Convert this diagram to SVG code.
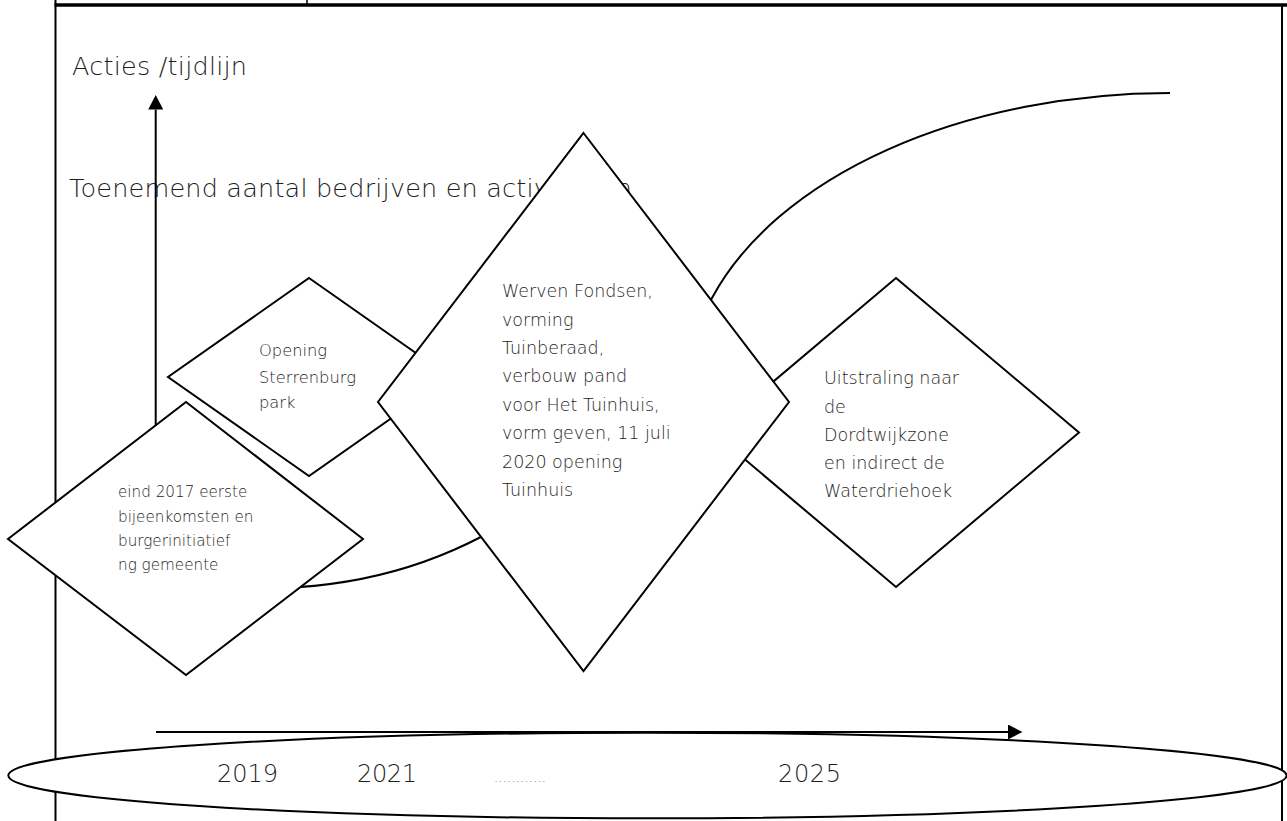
<svg xmlns="http://www.w3.org/2000/svg" width="1287" height="821" viewBox="0 0 1287 821">
<defs>
<style>
.frame{stroke:#000;fill:none}
.shape{fill:#fff;stroke:#000;stroke-width:2;stroke-linejoin:miter}
.line{fill:none;stroke:#000;stroke-width:2}
.t{font-family:"DejaVu Sans","Liberation Sans",sans-serif;font-weight:200;fill:#1e1e1e}
.big{font-size:25.5px}
.yr{font-size:24px}
.d17{font-size:17.5px}
.d16{font-size:16.3px}
.d15{font-size:15.2px}
</style>
<marker id="arrow" markerUnits="userSpaceOnUse" markerWidth="16" markerHeight="16" refX="0" refY="7.5" orient="auto">
<path d="M0,0 L14.5,7.5 L0,15 z" fill="#000"/>
</marker>
</defs>
<rect width="1287" height="821" fill="#fff"/>
<g id="frame">
<line class="frame" x1="55.5" y1="0" x2="55.5" y2="821" stroke-width="2"/>
<line class="frame" x1="307" y1="0" x2="307" y2="5" stroke-width="1.5"/>
<line class="frame" x1="54.5" y1="5" x2="1287" y2="5" stroke-width="3.5"/>
<line class="frame" x1="1282" y1="5" x2="1282" y2="821" stroke-width="2"/>
</g>
<g id="titles">
<text class="t big" x="72" y="75" textLength="175">Acties /tijdlijn</text>
<text class="t big" x="69" y="197" textLength="563">Toenemend aantal bedrijven en activiteiten</text>
</g>
<g id="connectors">
<line class="line" x1="155.7" y1="600" x2="155.7" y2="109.5" marker-end="url(#arrow)"/>
<path class="line" d="M250,588 C520,595 657,400 712,298 A483,300 0 0 1 1170,93"/>
</g>
<g id="node-opening">
<polygon class="shape" points="309,278 450,377 309,476 168,377"/>
<text class="t d16" x="259"><tspan x="259" y="356">Opening</tspan><tspan x="259" y="382.7">Sterrenburg</tspan><tspan x="259" y="408.3">park</tspan></text>
</g>
<g id="node-eind2017">
<polygon class="shape" points="186,402 363,539 186,675 8,539"/>
<text class="t d15" x="118"><tspan x="118" y="497.3">eind 2017 eerste</tspan><tspan x="118" y="521.7">bijeenkomsten en</tspan><tspan x="118" y="546">burgerinitiatief</tspan><tspan x="118" y="570">ng gemeente</tspan></text>
</g>
<g id="node-uitstraling">
<polygon class="shape" points="896,278 1079,432.5 896,587 713,432.5"/>
<text class="t d17" x="824"><tspan x="824" y="384.3">Uitstraling naar</tspan><tspan x="824" y="412.7">de</tspan><tspan x="824" y="441">Dordtwijkzone</tspan><tspan x="824" y="469.3">en indirect de</tspan><tspan x="824" y="497.3">Waterdriehoek</tspan></text>
</g>
<g id="node-werven">
<polygon class="shape" points="583.5,133 789,402 583.5,671 378,402"/>
<text class="t d17" x="502"><tspan x="502" y="296.7">Werven Fondsen,</tspan><tspan x="502" y="325.7">vorming</tspan><tspan x="502" y="354.3">Tuinberaad,</tspan><tspan x="502" y="382.3">verbouw  pand</tspan><tspan x="502" y="411">voor Het  Tuinhuis,</tspan><tspan x="502" y="439.3">vorm geven, 11 juli</tspan><tspan x="502" y="468.3">2020 opening</tspan><tspan x="502" y="496">Tuinhuis</tspan></text>
</g>
<g id="node-timeline">
<ellipse class="shape" cx="647.5" cy="775.5" rx="639.2" ry="42.8"/>
<text class="t yr" x="217" y="782" textLength="61">2019</text>
<text class="t yr" x="357" y="782" textLength="60">2021</text>
<text class="t" x="494" y="782" font-size="13" textLength="52">............</text>
<text class="t yr" x="778" y="782" textLength="63">2025</text>
</g>
<g id="connector-time">
<line class="line" x1="156" y1="732" x2="1008" y2="732" marker-end="url(#arrow)"/>
</g>
</svg>
